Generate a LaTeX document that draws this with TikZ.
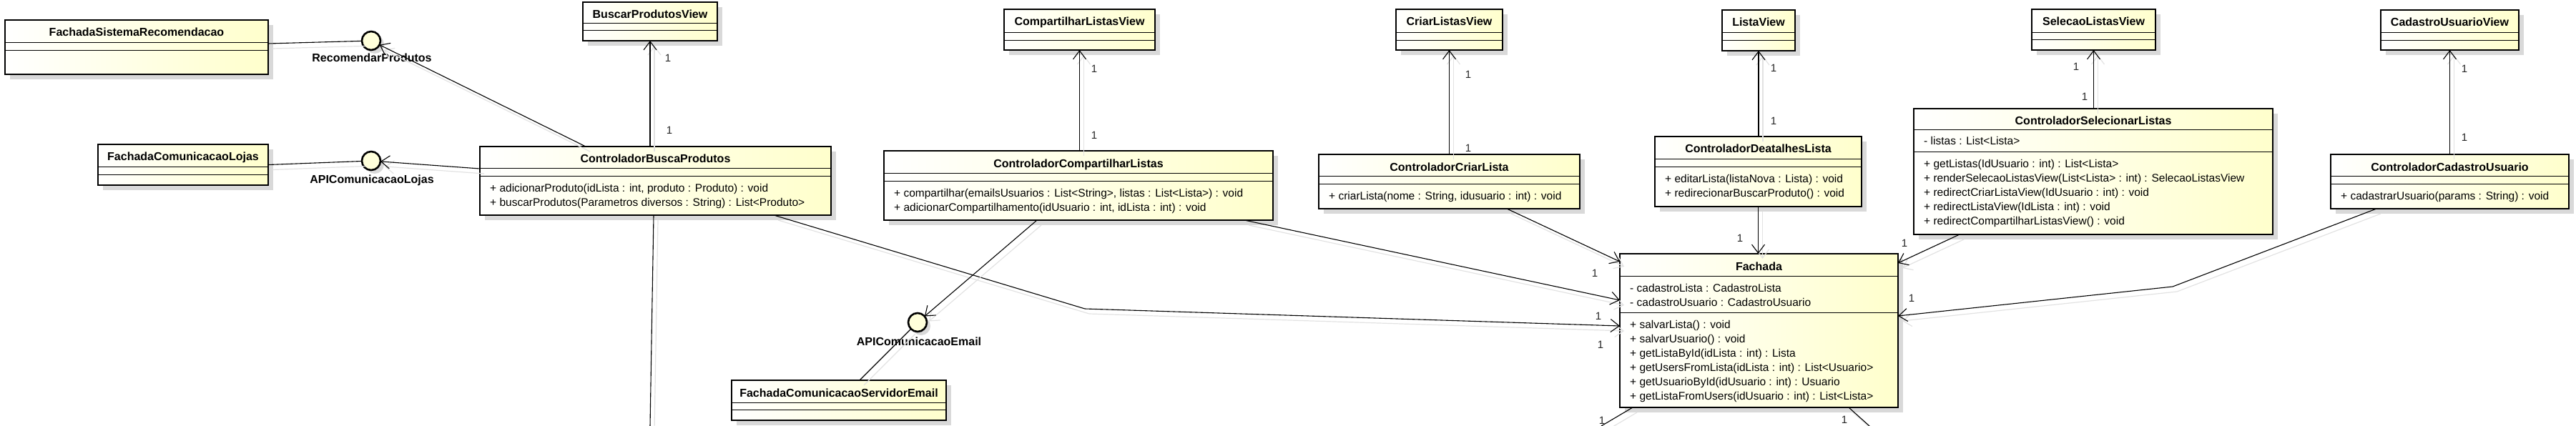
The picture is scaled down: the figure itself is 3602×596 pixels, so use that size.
\documentclass[tikz,border=0pt]{standalone}
\usepackage{fontspec}
\setmainfont{Liberation Sans}
\usetikzlibrary{calc,positioning,arrows.meta,shadows}
\definecolor{classyellow}{RGB}{255,255,204}
\definecolor{shadowgray}{RGB}{217,217,217}
\definecolor{lineshadow}{RGB}{226,226,226}

\tikzset{
  classbox/.style={draw=black, line width=2.6pt, left color=white, right color=classyellow,
    drop shadow={shadow xshift=7pt, shadow yshift=-7pt, fill=shadowgray, opacity=1},
    inner sep=0pt, outer sep=0pt},
  sepline/.style={draw=black, line width=0.9pt},
  classname/.style={font=\bfseries\fontsize{16}{19}\selectfont, inner sep=0pt},
  classtext/.style={font=\fontsize{15.5}{20}\selectfont, inner sep=0pt},
  iface/.style={circle, draw=black, line width=2.6pt, fill=classyellow!70, minimum size=26pt,
    inner sep=0pt, outer sep=0pt,
    drop shadow={shadow xshift=5pt, shadow yshift=-5pt, fill=shadowgray, opacity=1}},
  ifacename/.style={font=\bfseries\fontsize{16}{19}\selectfont, inner sep=0pt},
  mult/.style={font=\fontsize{15}{18}\selectfont, inner sep=0pt, text=black!85},
  conn/.style={draw=black, line width=1.1pt,
    preaction={draw=lineshadow, line width=1.2pt, transform canvas={xshift=6pt, yshift=-7pt}}},
  nav/.style={conn, -{Straight Barb[length=12pt, width=18pt]}}
}

% class box: name, x1, y1, x2, y2, title, first and second separator
\newcommand{\umlclass}[8]{%
  \node[classbox, minimum width={#4-#2}, minimum height={#5-#3}] (#1) at ({(#2+#4)/2},{(#3+#5)/2}) {};
  \draw[sepline] (#2,#7) -- (#4,#7);
  \draw[sepline] (#2,#8) -- (#4,#8);
  \node[classname, anchor=base] (#1-name) at ({(#2+#4)/2},{#3+23}) {#6};
}
% text of a compartment: name, left side, separator above, lines
\newcommand{\umlbody}[4]{%
  \node[classtext, anchor=base west] (#1) at ({#2+14},{#3+22}) {\vtop{#4}};
}
\newcommand{\umlline}[1]{\hbox{#1}}

\begin{document}
\begin{tikzpicture}[x=1pt,y=-1pt]
\useasboundingbox (0,0) rectangle (3602,596);

% facades on the left
\umlclass{fsr}{7}{28}{375}{104}{FachadaSistemaRecomendacao}{59}{70}
\umlclass{fcl}{137}{202}{375}{259}{FachadaComunicacaoLojas}{233}{244}
\umlclass{fcse}{1023}{532}{1323}{588}{FachadaComunicacaoServidorEmail}{563}{573}

% views
\umlclass{bpv}{815}{3}{1003}{57}{BuscarProdutosView}{32}{42}
\umlclass{clv}{1404}{13}{1615}{70}{CompartilharListasView}{45}{56}
\umlclass{crv}{1952}{13}{2101}{70}{CriarListasView}{45}{56}
\umlclass{lv}{2408}{14}{2510}{71}{ListaView}{45}{56}
\umlclass{slv}{2841}{13}{3014}{70}{SelecaoListasView}{45}{55}
\umlclass{cuv}{3329}{14}{3522}{70}{CadastroUsuarioView}{45}{56}

% controllers
\umlclass{cbp}{671}{205}{1162}{301}{ControladorBuscaProdutos}{235}{246}
\umlbody{cbp-ops}{671}{246}{\umlline{+ adicionarProduto(idLista : int, produto : Produto) : void}\umlline{+ buscarProdutos(Parametros diversos : String) : List<Produto>}}

\umlclass{ccl}{1236}{211}{1780}{308}{ControladorCompartilharListas}{242}{253}
\umlbody{ccl-ops}{1236}{253}{\umlline{+ compartilhar(emailsUsuarios : List<String>, listas : List<Lista>) : void}\umlline{+ adicionarCompartilhamento(idUsuario : int, idLista : int) : void}}

\umlclass{ccr}{1844}{216}{2209}{292}{ControladorCriarLista}{246}{257}
\umlbody{ccr-ops}{1844}{257}{\umlline{+ criarLista(nome : String, idusuario : int) : void}}

\umlclass{cdl}{2314}{191}{2603}{289}{ControladorDeatalhesLista}{222}{233}
\umlbody{cdl-ops}{2314}{233}{\umlline{+ editarLista(listaNova : Lista) : void}\umlline{+ redirecionarBuscarProduto() : void}}

\umlclass{csl}{2676}{152}{3178}{328}{ControladorSelecionarListas}{181}{212}
\umlbody{csl-attr}{2676}{181}{\umlline{- listas : List<Lista>}}
\umlbody{csl-ops}{2676}{212}{\umlline{+ getListas(IdUsuario : int) : List<Lista>}\umlline{+ renderSelecaoListasView(List<Lista> : int) : SelecaoListasView}\umlline{+ redirectCriarListaView(IdUsuario : int) : void}\umlline{+ redirectListaView(IdLista : int) : void}\umlline{+ redirectCompartilharListasView() : void}}

\umlclass{ccu}{3259}{216}{3592}{292}{ControladorCadastroUsuario}{246}{257}
\umlbody{ccu-ops}{3259}{257}{\umlline{+ cadastrarUsuario(params : String) : void}}

% the facade
\umlclass{fach}{2265}{355}{2654}{570}{Fachada}{386}{437}
\umlbody{fach-attr}{2265}{386}{\umlline{- cadastroLista : CadastroLista}\umlline{- cadastroUsuario : CadastroUsuario}}
\umlbody{fach-ops}{2265}{437}{\umlline{+ salvarLista() : void}\umlline{+ salvarUsuario() : void}\umlline{+ getListaById(idLista : int) : Lista}\umlline{+ getUsersFromLista(idLista : int) : List<Usuario>}\umlline{+ getUsuarioById(idUsuario : int) : Usuario}\umlline{+ getListaFromUsers(idUsuario : int) : List<Lista>}}

% interfaces
\node[iface] (ifrec) at (519,57) {};
\node[ifacename, anchor=base] (ifrec-name) at (520,87) {RecomendarProdutos};
\node[iface] (iflojas) at (519,225) {};
\node[ifacename, anchor=base] (iflojas-name) at (520,256) {APIComunicacaoLojas};
\node[iface] (ifemail) at (1283,451) {};
\node[ifacename, anchor=base] (ifemail-name) at (1285,483) {APIComunicacaoEmail};

% bends and free ends
\coordinate (bend1) at (1517,432);
\coordinate (bend2) at (3038,401);
\coordinate (cbpdown) at (909,596);
\coordinate (fachdown1) at (2239,596);
\coordinate (fachdown2) at (2614,596);

% connectors
\draw[conn] ($(fsr.north east)+(0,33)$) -- (ifrec);
\draw[conn] (fcl.east) -- (iflojas);
\draw[nav] ($(cbp.north west)+(148,0)$) -- (ifrec);
\draw[nav] ($(cbp.north west)+(0,31)$) -- (iflojas);
\draw[nav] (bpv.south |- cbp.north) -- (bpv.south);
\draw[conn] ($(cbp.south west)+(243,0)$) -- (cbpdown);
\draw[nav] ($(cbp.south west)+(411,0)$) -- (bend1) -- ($(fach.north west)+(0,101)$);
\draw[nav] (clv.south |- ccl.north) -- (clv.south);
\draw[nav] ($(ccl.south west)+(214,0)$) -- (ifemail);
\draw[conn] (ifemail) -- ($(fcse.north west)+(179,0)$);
\draw[nav] ($(ccl.south west)+(504,0)$) -- ($(fach.north west)+(0,65)$);
\draw[nav] (crv.south |- ccr.north) -- (crv.south);
\draw[nav] ($(ccr.south west)+(263,0)$) -- ($(fach.north west)+(0,11)$);
\draw[nav] (lv.south |- cdl.north) -- (lv.south);
\draw[nav] (cdl.south) -- (fach.north -| cdl.south);
\draw[nav] (slv.south |- csl.north) -- (slv.south);
\draw[nav] ($(csl.south west)+(64,0)$) -- ($(fach.north east)+(0,13)$);
\draw[nav] (cuv.south |- ccu.north) -- (cuv.south);
\draw[nav] ($(ccu.south west)+(64,0)$) -- (bend2) -- ($(fach.north east)+(0,87)$);
\draw[conn] ($(fach.south west)+(18,0)$) -- (fachdown1);
\draw[conn] ($(fach.south west)+(320,0)$) -- (fachdown2);

% multiplicities
\node[mult] (m1) at (934,81) {1};
\node[mult] (m2) at (936,182) {1};
\node[mult] (m3) at (1530,96) {1};
\node[mult] (m4) at (1530,189) {1};
\node[mult] (m5) at (2053,104) {1};
\node[mult] (m6) at (2053,207) {1};
\node[mult] (m7) at (2480,95) {1};
\node[mult] (m8) at (2480,169) {1};
\node[mult] (m9) at (2433,333) {1};
\node[mult] (m10) at (2903,93) {1};
\node[mult] (m11) at (2915,135) {1};
\node[mult] (m12) at (3446,96) {1};
\node[mult] (m13) at (3446,192) {1};
\node[mult] (m14) at (2230,382) {1};
\node[mult] (m15) at (2235,442) {1};
\node[mult] (m16) at (2238,482) {1};
\node[mult] (m17) at (2663,340) {1};
\node[mult] (m18) at (2673,417) {1};
\node[mult] (m19) at (2240,588) {1};
\node[mult] (m20) at (2579,587) {1};
\end{tikzpicture}
\end{document}
